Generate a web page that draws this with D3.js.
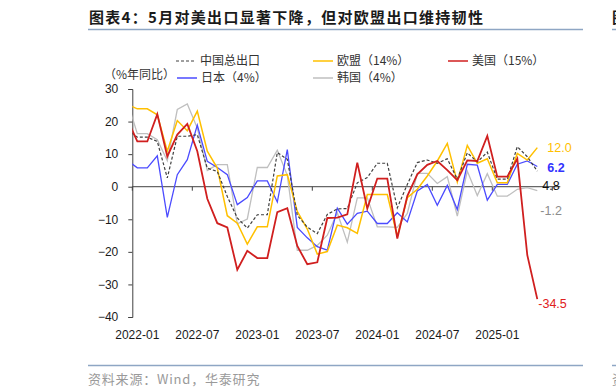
<!DOCTYPE html>
<html>
<head>
<meta charset="utf-8">
<script src="https://cdn.jsdelivr.net/npm/d3@7"></script>
<style>
  body { margin: 0; background: #fff; }
  svg { display: block; }
  text { font-family: "Liberation Sans", Arial, "Noto Sans CJK SC", sans-serif; }
  .cjk { font-family: "Noto Sans CJK SC", sans-serif; }
</style>
</head>
<body>
<div id="chart"></div>
<script>
// Months (2021-12 is only there so the line enters from the axis edge)
const months = ["2021-12",
  "2022-01","2022-02","2022-03","2022-04","2022-05","2022-06","2022-07","2022-08","2022-09","2022-10","2022-11","2022-12",
  "2023-01","2023-02","2023-03","2023-04","2023-05","2023-06","2023-07","2023-08","2023-09","2023-10","2023-11","2023-12",
  "2024-01","2024-02","2024-03","2024-04","2024-05","2024-06","2024-07","2024-08","2024-09","2024-10","2024-11","2024-12",
  "2025-01","2025-02","2025-03","2025-04","2025-05"];

const tickLabels = ["2022-01","2022-07","2023-01","2023-07","2024-01","2024-07","2025-01"];
const yTicks = [30, 20, 10, 0, -10, -20, -30, -40];

// YoY export growth, %
const chinaTotal = [17.5,
  15.2,15.2,13.9,2.7,15.5,15.5,16.0,5.7,4.7,-3.0,-9.6,-12.7,
  -8.6,-8.6,10.5,8.4,-8.8,-12.4,-14.4,-8.5,-6.8,-6.7,1.2,2.8,
  7.2,7.2,-6.5,0.7,7.4,8.2,7.2,8.6,2.3,10.4,7.6,10.6,
  2.3,2.3,12.3,9.2,4.8];
const eu = [25.3,
  23.9,23.9,22.1,10.9,20.3,17.2,23.2,10.9,5.7,-8.9,-11.2,-17.6,
  -12.3,-12.3,3.3,3.7,-7.6,-13.0,-20.7,-19.9,-11.8,-12.6,-14.3,-2.4,
  -2.4,-2.4,-15.3,-3.4,-0.8,3.3,7.9,13.3,1.4,12.7,7.2,8.6,
  1.2,1.2,10.2,8.2,12.0];
const us = [20.7,
  13.9,13.9,22.3,9.3,16.0,19.3,10.9,-3.7,-11.2,-12.5,-25.5,-19.7,
  -21.9,-21.9,-7.8,-6.6,-18.2,-23.8,-23.2,-9.6,-9.5,-8.5,7.4,-6.7,
  2.5,2.5,-15.9,-2.9,3.8,6.7,7.9,5.1,2.0,8.1,7.9,15.6,
  3.1,3.1,8.6,-21.0,-34.5];
const japan = [8.1,
  5.8,5.8,9.5,-9.4,3.7,8.3,18.9,7.8,5.9,3.7,-5.5,-3.3,
  1.8,1.8,-4.7,11.4,-12.5,-15.7,-18.4,-19.5,-6.6,-11.5,-8.2,-7.5,
  -11.3,-11.3,-8.0,-10.8,-1.3,0.7,-5.7,0.4,-7.0,6.9,6.6,-4.1,
  0.7,0.7,6.9,7.9,6.2];
const korea = [26.2,
  16.3,16.3,14.4,8.0,23.7,25.4,18.0,5.0,6.8,6.8,-11.4,-9.9,
  5.9,5.9,11.2,3.5,-19.5,-19.5,-18.0,-14.9,-8.0,-17.0,-3.4,-3.4,
  -12.3,-12.3,-12.5,-8.2,4.1,4.1,1.0,3.1,-9.0,4.8,-2.7,4.0,
  -2.9,-2.9,-0.8,-0.3,-1.2];

const series = [
  { name: "韩国（4%）", values: korea, color: "#bfbfbf", width: 1.3, dash: null, label: "#8c8c8c", bold: false },
  { name: "日本（4%）", values: japan, color: "#4b4bff", width: 1.3, dash: null, label: "#3333ff", bold: true },
  { name: "欧盟（14%）", values: eu, color: "#ffc000", width: 1.5, dash: null, label: "#ffc000", bold: false },
  { name: "中国总出口", values: chinaTotal, color: "#404040", width: 1.2, dash: "3,2", label: "#111", bold: false },
  { name: "美国（15%）", values: us, color: "#d01f1f", width: 1.8, dash: null, label: "#e02020", bold: false }
];

const width = 616, height = 389;
const svg = d3.select("#chart").append("svg")
  .attr("width", width)
  .attr("height", height);

// Title + rules
svg.append("text")
  .attr("class", "cjk")
  .attr("x", 89).attr("y", 23)
  .attr("font-size", 15).attr("font-weight", "bold")
  .attr("fill", "#1a1a1a")
  .attr("letter-spacing", 1.3)
  .text("图表4：5月对美出口显著下降，但对欧盟出口维持韧性");
svg.append("text")
  .attr("class", "cjk")
  .attr("x", 612).attr("y", 23)
  .attr("font-size", 15).attr("font-weight", "bold")
  .attr("fill", "#1a1a1a")
  .text("图");

[[88, 583], [612, 616]].forEach(([a, b]) => {
  svg.append("line").attr("x1", a).attr("x2", b).attr("y1", 29.5).attr("y2", 29.5)
    .attr("stroke", "#8ea6c4").attr("stroke-width", 1.5);
  svg.append("line").attr("x1", a).attr("x2", b).attr("y1", 365.5).attr("y2", 365.5)
    .attr("stroke", "#8ea6c4").attr("stroke-width", 1.5);
});

svg.append("text")
  .attr("class", "cjk")
  .attr("x", 88).attr("y", 384)
  .attr("font-size", 13).attr("fill", "#9a9a9a")
  .attr("letter-spacing", 0.8)
  .text("资料来源：Wind，华泰研究");
svg.append("text")
  .attr("class", "cjk")
  .attr("x", 612).attr("y", 384)
  .attr("font-size", 13).attr("fill", "#9a9a9a")
  .text("资");

// Scales: index 0 = 2021-12
const x = d3.scaleLinear().domain([0.5, 43.3]).range([132.3, 560.3]);
const y = d3.scaleLinear().domain([-40, 30]).range([317, 89]);

// Y axis
const yAxis = svg.append("g")
  .attr("transform", `translate(${x(0.5)},0)`)
  .call(d3.axisLeft(y).tickValues(yTicks).tickSize(4).tickPadding(10).tickFormat(d3.format("d")));
yAxis.select(".domain").attr("stroke", "#404040");
yAxis.selectAll(".tick line").attr("stroke", "#404040");
yAxis.selectAll("text").attr("font-size", 12).attr("fill", "#1a1a1a")
  .attr("font-family", "'Liberation Sans', Arial, sans-serif");

// Zero line with ticks every 6 months
const tickPos = d3.range(0, 8).map(k => 0.5 + 6 * k);
svg.append("line")
  .attr("x1", x(0.5)).attr("x2", x(43.3))
  .attr("y1", y(0)).attr("y2", y(0))
  .attr("stroke", "#404040").attr("stroke-width", 1);
svg.selectAll("line.xtick").data(tickPos).enter().append("line")
  .attr("class", "xtick")
  .attr("x1", d => x(d)).attr("x2", d => x(d))
  .attr("y1", y(0)).attr("y2", y(0) + 4)
  .attr("stroke", "#404040");

// X labels, bottom
svg.selectAll("text.xlab").data(tickLabels).enter().append("text")
  .attr("class", "xlab")
  .attr("x", d => x(months.indexOf(d)))
  .attr("y", 339)
  .attr("text-anchor", "middle")
  .attr("font-size", 12).attr("fill", "#1a1a1a")
  .text(d => d);

// Lines
svg.append("clipPath").attr("id", "plot-clip")
  .append("rect")
  .attr("x", x(0.5)).attr("y", 80)
  .attr("width", x(43.3) - x(0.5)).attr("height", 250);

const line = d3.line()
  .x((d, i) => x(i))
  .y(d => y(d));

const g = svg.append("g").attr("clip-path", "url(#plot-clip)");
series.forEach(s => {
  g.append("path")
    .datum(s.values)
    .attr("d", line)
    .attr("fill", "none")
    .attr("stroke", s.color)
    .attr("stroke-width", s.width)
    .attr("stroke-dasharray", s.dash)
    .attr("stroke-linejoin", "miter");
});

// End labels
const endLabels = [
  { s: eu, dx: 10, dy: 0 },
  { s: japan, dx: 10, dy: 1 },
  { s: chinaTotal, dx: 5, dy: 15 },
  { s: korea, dx: 3, dy: 20 },
  { s: us, dx: 1, dy: 5 }
];
const last = months.length - 1;
endLabels.forEach(l => {
  const s = series.find(q => q.values === l.s);
  const v = l.s[last];
  svg.append("text")
    .attr("x", x(last) + l.dx)
    .attr("y", y(v) + l.dy)
    .attr("dy", "0.35em")
    .attr("font-size", 12.5)
    .attr("font-weight", s.bold ? "bold" : null)
    .attr("fill", s.label)
    .text(d3.format(".1f")(v).replace("−", "-"));
});

// Legend
svg.append("text")
  .attr("class", "cjk")
  .attr("x", 104).attr("y", 74.5)
  .attr("dy", "0.35em")
  .attr("font-size", 12).attr("fill", "#333")
  .text("（%年同比）");

const legendPos = {
  "中国总出口": [176, 61],
  "欧盟（14%）": [313, 61],
  "美国（15%）": [448, 61],
  "日本（4%）": [177, 78],
  "韩国（4%）": [313, 78]
};
series.forEach(s => {
  const [lx, ly] = legendPos[s.name];
  svg.append("line")
    .attr("x1", lx).attr("x2", lx + 20)
    .attr("y1", ly).attr("y2", ly)
    .attr("stroke", s.color)
    .attr("stroke-width", s.dash ? 1 : 1.5)
    .attr("stroke-dasharray", s.dash);
  svg.append("text")
    .attr("class", "cjk")
    .attr("x", lx + 24).attr("y", ly)
    .attr("dy", "0.35em")
    .attr("font-size", 12).attr("fill", "#333")
    .text(s.name);
});
</script>
</body>
</html>
